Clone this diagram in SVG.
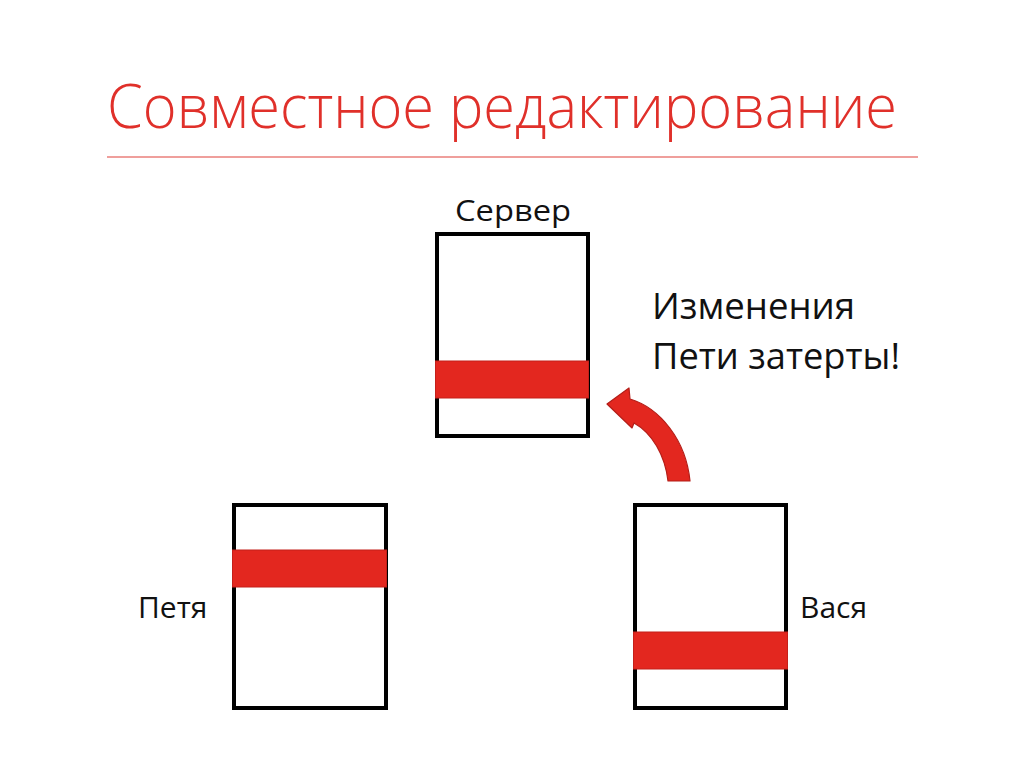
<svg xmlns="http://www.w3.org/2000/svg" width="1024" height="767" viewBox="0 0 1024 767">
<style>
.box{fill:#fff;stroke:#000;stroke-width:4}
.band{fill:#e3271f;stroke:#c4201a;stroke-width:1}
.lbl{font-family:"Open Sans","Noto Sans","DejaVu Sans",sans-serif;fill:#111}
</style>
<rect width="1024" height="767" fill="#fff"/>
<text x="107" y="128" font-family="'Open Sans','Noto Sans',sans-serif" font-weight="300" font-size="60" fill="#e0302a" textLength="790" lengthAdjust="spacingAndGlyphs">Совместное редактирование</text>
<line x1="107" y1="157" x2="918" y2="157" stroke="#e0403a" stroke-width="1.2"/>
<g id="server">
<text class="lbl" x="455" y="221" font-size="30" textLength="116" lengthAdjust="spacingAndGlyphs">Сервер</text>
<rect class="box" x="437" y="234" width="151" height="202"/>
<rect class="band" x="435.5" y="361" width="153" height="37"/>
</g>
<g id="petya">
<text class="lbl" x="138" y="618" font-size="30">Петя</text>
<rect class="box" x="234" y="505" width="152" height="203"/>
<rect class="band" x="232.5" y="550" width="154" height="37"/>
</g>
<g id="vasya">
<text class="lbl" x="800" y="618" font-size="30">Вася</text>
<rect class="box" x="635" y="505" width="151" height="203"/>
<rect class="band" x="633.5" y="632" width="154" height="37"/>
</g>
<g id="note">
<text class="lbl" x="652" y="319" font-size="36" textLength="203" lengthAdjust="spacingAndGlyphs">Изменения</text>
<text class="lbl" x="652" y="369" font-size="36" textLength="248" lengthAdjust="spacingAndGlyphs">Пети затерты!</text>
</g>
<g id="connectors">
<path d="M668,481 C665,455 652,433 634,423 L632,428 L607,404 L629,388 L630,399 C660,408 686,440 690,481 Z" fill="#e3271f" stroke="#b41d17" stroke-width="1.2" stroke-linejoin="round"/>
</g>
</svg>
